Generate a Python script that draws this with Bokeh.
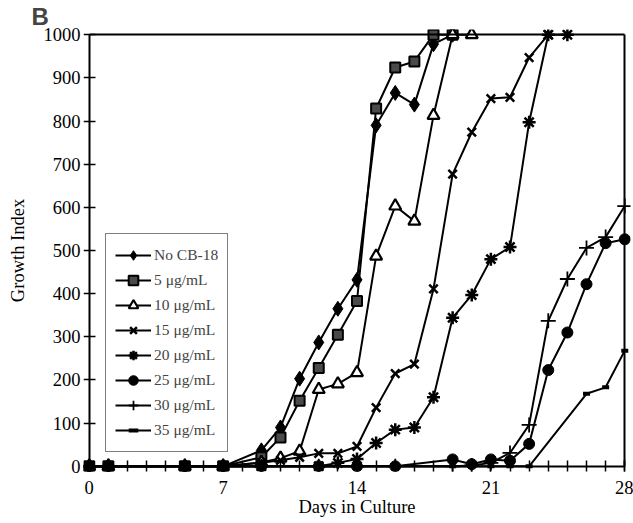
from bokeh.plotting import figure
from bokeh.models import (Range1d, FixedTicker, Legend, LegendItem, LinearAxis)
from bokeh.embed import file_html
from bokeh.resources import INLINE

# ---------------- data ----------------
series_names = ["No CB-18", "5 \u03bcg/mL", "10 \u03bcg/mL", "15 \u03bcg/mL",
                "20 \u03bcg/mL", "25 \u03bcg/mL", "30 \u03bcg/mL", "35 \u03bcg/mL"]

days_ctrl = [0, 1, 5, 7, 9, 10, 11, 12, 13, 14, 15, 16, 17, 18, 19]
vals_ctrl = [0, 0, 0, 0, 37, 90, 203, 287, 365, 432, 790, 865, 838, 978, 1000]

days_5 = [0, 1, 5, 7, 9, 10, 11, 12, 13, 14, 15, 16, 17, 18, 19]
vals_5 = [0, 0, 0, 0, 21, 67, 152, 228, 305, 383, 829, 924, 938, 1000, 1000]

days_10 = [0, 1, 5, 7, 9, 10, 11, 12, 13, 14, 15, 16, 17, 18, 19, 20]
vals_10 = [0, 0, 0, 0, 9, 19, 35, 178, 191, 217, 487, 603, 568, 813, 1000, 1000]

days_15 = [0, 1, 5, 7, 9, 10, 11, 12, 13, 14, 15, 16, 17, 18, 19, 20, 21, 22, 23, 24]
vals_15 = [0, 0, 0, 0, 8, 14, 21, 30, 30, 46, 136, 215, 237, 411, 677, 774, 852, 855, 947, 1000]

days_20 = [0, 1, 5, 7, 9, 12, 13, 14, 15, 16, 17, 18, 19, 20, 21, 22, 23, 24, 25]
vals_20 = [0, 0, 0, 0, 0, 0, 8, 17, 54, 85, 90, 160, 344, 397, 480, 508, 797, 1000, 1000]

days_25 = [0, 1, 5, 7, 9, 12, 14, 16, 19, 20, 21, 22, 23, 24, 25, 26, 27, 28]
vals_25 = [0, 0, 0, 0, 0, 0, 0, 0, 16, 5, 16, 13, 52, 223, 310, 422, 517, 526]

days_30 = [0, 1, 5, 7, 9, 12, 14, 16, 19, 20, 21, 22, 23, 24, 25, 26, 27, 28]
vals_30 = [0, 0, 0, 0, 0, 0, 0, 0, 0, 2, 8, 31, 96, 337, 434, 506, 531, 603]

days_35 = [0, 1, 5, 7, 9, 12, 14, 16, 19, 20, 21, 22, 23, 26, 27, 28]
vals_35 = [0, 0, 0, 0, 0, 0, 0, 0, 0, 0, 0, 0, 0, 168, 183, 268]

x_ticks = [0, 7, 14, 21, 28]
x_minor_ticks = list(range(0, 29))
y_ticks = [0, 100, 200, 300, 400, 500, 600, 700, 800, 900, 1000]

X_MIN, X_MAX = 0, 28
Y_MIN, Y_MAX = 0, 1000

# ---------------- figure ----------------
SERIF = "Liberation Serif"
p = figure(width=633, height=523, output_backend="svg", toolbar_location=None,
           x_range=Range1d(-0.3, 28.3), y_range=Range1d(-12, 1012),
           min_border_left=83, min_border_right=3, min_border_top=29,
           min_border_bottom=52, title="B")
p.outline_line_color = None
p.grid.visible = False
p.background_fill_color = "white"

p.title.text_font = "Liberation Sans"
p.title.text_font_style = "bold"
p.title.text_font_size = "24px"
p.title.align = "left"
p.title.offset = -52
p.title.standoff = 0

# label-only axes at the frame edges
xa = p.xaxis[0]
xa.ticker = FixedTicker(ticks=x_ticks)
xa.axis_line_color = None
xa.major_tick_in = 0
xa.major_tick_out = 0
xa.minor_tick_in = 0
xa.minor_tick_out = 0
xa.major_label_text_font = SERIF
xa.major_label_text_font_size = "18.5px"
xa.major_label_text_color = "black"
xa.major_label_standoff = 9
xa.axis_label = "Days in Culture"
xa.axis_label_text_font = SERIF
xa.axis_label_text_font_style = "normal"
xa.axis_label_text_font_size = "18.5px"
xa.axis_label_text_color = "black"
xa.axis_label_standoff = 0

ya = p.yaxis[0]
ya.ticker = FixedTicker(ticks=y_ticks)
ya.axis_line_color = None
ya.major_tick_in = 0
ya.major_tick_out = 0
ya.minor_tick_in = 0
ya.minor_tick_out = 0
ya.major_label_text_font = SERIF
ya.major_label_text_font_size = "18.5px"
ya.major_label_text_color = "black"
ya.major_label_standoff = 3
ya.axis_label = "Growth Index"
ya.axis_label_text_font = SERIF
ya.axis_label_text_font_style = "normal"
ya.axis_label_text_font_size = "18.5px"
ya.axis_label_text_color = "black"
ya.axis_label_standoff = 13

# axis lines + crossing ticks, placed on the data zero lines
x_line_ax = LinearAxis(fixed_location=Y_MIN, bounds=(X_MIN, X_MAX),
                       ticker=FixedTicker(ticks=x_ticks, minor_ticks=x_minor_ticks),
                       major_tick_in=6, major_tick_out=6, minor_tick_in=6, minor_tick_out=6,
                       axis_line_width=2, major_tick_line_width=1.5,
                       minor_tick_line_width=1.5, major_label_text_alpha=0,
                       major_label_text_font_size="1px")
y_line_ax = LinearAxis(fixed_location=X_MIN, bounds=(Y_MIN, Y_MAX),
                       ticker=FixedTicker(ticks=y_ticks),
                       major_tick_in=6, major_tick_out=6, minor_tick_in=0, minor_tick_out=0,
                       axis_line_width=2, major_tick_line_width=1.5,
                       major_label_text_alpha=0, major_label_text_font_size="1px")
top_ax = LinearAxis(fixed_location=Y_MAX, bounds=(X_MIN, X_MAX),
                    ticker=FixedTicker(ticks=[]), major_tick_in=0, major_tick_out=0,
                    minor_tick_in=0, minor_tick_out=0, axis_line_width=2,
                    major_label_text_font_size="1px")
right_ax = LinearAxis(fixed_location=X_MAX, bounds=(Y_MIN, Y_MAX),
                      ticker=FixedTicker(ticks=[]), major_tick_in=0, major_tick_out=0,
                      minor_tick_in=0, minor_tick_out=0, axis_line_width=2,
                      major_label_text_font_size="1px")
p.add_layout(x_line_ax, "below")
p.add_layout(y_line_ax, "left")
p.add_layout(top_ax, "above")
p.add_layout(right_ax, "right")

# ---------------- series ----------------
styles = [
    dict(marker="diamond", size=15, fill_color="black", line_color="black", line_width=1),
    dict(marker="square", size=10, fill_color="#4a4a4a", line_color="black", line_width=2),
    dict(marker="triangle", size=12, fill_color="white", line_color="black", line_width=2.2),
    dict(marker="x", size=12, fill_color=None, line_color="black", line_width=2.5),
    dict(marker="asterisk", size=13, fill_color=None, line_color="black", line_width=2.5),
    dict(marker="circle", size=11, fill_color="black", line_color="black", line_width=1),
    dict(marker="cross", size=15, fill_color=None, line_color="black", line_width=1.8),
    dict(marker="dash", size=7, fill_color=None, line_color="black", line_width=4),
]
all_days = [days_ctrl, days_5, days_10, days_15, days_20, days_25, days_30, days_35]
all_vals = [vals_ctrl, vals_5, vals_10, vals_15, vals_20, vals_25, vals_30, vals_35]

items = []
for name, d, v, st in zip(series_names, all_days, all_vals, styles):
    ln = p.line(d, v, line_color="black", line_width=2)
    sc = p.scatter(d, v, **st)
    items.append(LegendItem(label=name, renderers=[ln, sc]))

legend = Legend(items=items, location=(22, 19), border_line_color="black",
                border_line_width=1.5, background_fill_color="white",
                background_fill_alpha=1.0, padding=9, spacing=1, margin=0,
                glyph_height=24, glyph_width=36, label_standoff=3,
                label_text_font=SERIF, label_text_font_size="15.5px",
                label_height=24)
p.add_layout(legend, "center")

open("out.html", "w").write(file_html(p, INLINE))
